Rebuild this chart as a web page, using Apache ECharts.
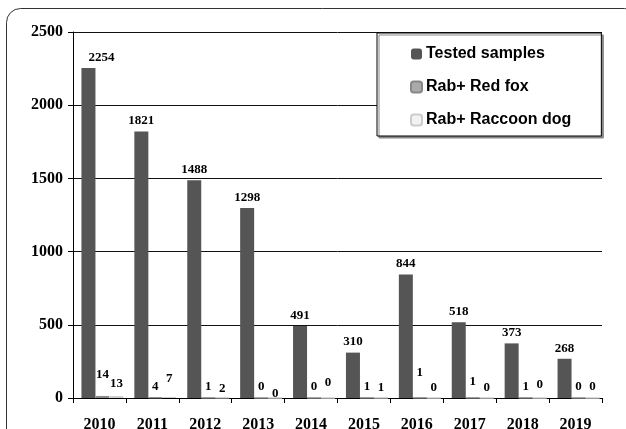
<!DOCTYPE html>
<html>
<head>
<meta charset="utf-8">
<script src="https://cdn.jsdelivr.net/npm/echarts@6/dist/echarts.min.js"></script>
<style>
html,body{margin:0;padding:0;background:#fff;}
#chart{width:626px;height:429px;}
</style>
</head>
<body>
<div id="chart"></div>
<script>
// ---- data ----
const years = ['2010','2011','2012','2013','2014','2015','2016','2017','2018','2019'];
const testedSamples = [2254,1821,1488,1298,491,310,844,518,373,268];
const redFox = [14,4,1,0,0,1,1,1,1,0];
const raccoonDog = [13,7,2,0,0,1,0,0,0,0];
const yTicks = {min:0, max:2500, interval:500};

// ---- label nudges (style only, pixels) ----
const testedLabelDx = [13,0,0,0,0,0,0,0,0,0];
const foxLabelDy = [-11,0,0,0,0,0,-14,-5,0,0];
const raccoonLabelDy = [-2,-8,2,7,-4,1,1,1,-2,0];

const chart = echarts.init(document.getElementById('chart'), null, {renderer:'canvas'});
const serif = "'Liberation Serif', 'Times New Roman', serif";
const sans = "'Liberation Sans', Arial, sans-serif";
const labelCfg = {show:true, position:'top', distance:4, fontFamily:serif, fontWeight:'bold', fontSize:13, color:'#000'};

const withOffset = (arr, dx, dy) => arr.map((v, i) => ({
  value: v,
  label: {offset: [dx ? dx[i] : 0, dy ? dy[i] : 0]}
}));

chart.setOption({
  animation:false,
  backgroundColor:'#fff',
  graphic:[{
    type:'rect', z:-10, silent:true,
    shape:{x:6.5, y:8.5, width:632, height:450, r:14},
    style:{fill:'none', stroke:'#333', lineWidth:1}
  }],
  grid:{left:73, right:24, top:32, bottom:31, containLabel:false, outerBoundsMode:'none'},
  legend:{
    orient:'vertical', left:377, top:33,
    padding:[13,30,8,33],
    itemWidth:11, itemHeight:11, itemGap:17,
    backgroundColor:'#fff', borderColor:'#000', borderWidth:1,
    shadowColor:'#888', shadowOffsetX:2, shadowOffsetY:2, shadowBlur:0,
    textStyle:{fontFamily:sans, fontWeight:'bold', fontSize:16, color:'#000', padding:[0,0,0,-1]},
    data:['Tested samples','Rab+ Red fox','Rab+ Raccoon dog']
  },
  xAxis:{
    type:'category', data:years, boundaryGap:true,
    axisLine:{lineStyle:{color:'#000', width:1}},
    axisTick:{show:true, interval:0, length:5, inside:false, lineStyle:{color:'#000'}},
    axisLabel:{interval:0, margin:19, fontFamily:serif, fontWeight:'bold', fontSize:16, color:'#000'},
    splitLine:{show:false}
  },
  yAxis:{
    type:'value', min:yTicks.min, max:yTicks.max, interval:yTicks.interval,
    axisLine:{show:true, lineStyle:{color:'#000', width:1}},
    axisTick:{show:true, length:5, lineStyle:{color:'#000'}},
    axisLabel:{margin:10, fontFamily:serif, fontWeight:'bold', fontSize:16, color:'#000',
      formatter: v => String(v)},
    splitLine:{show:true, lineStyle:{color:'#111', width:1}}
  },
  series:[
    {name:'spacer', type:'bar', data:[], barWidth:6, barGap:'0%', silent:true},
    {name:'Tested samples', type:'bar', data:withOffset(testedSamples, testedLabelDx, null), barWidth:14, barGap:'0%',
     itemStyle:{color:'#555555'}, label:labelCfg},
    {name:'Rab+ Red fox', type:'bar', data:withOffset(redFox, null, foxLabelDy), barWidth:14, barGap:'0%',
     itemStyle:{color:'#aaaaaa', borderColor:'#888888', borderWidth:1}, label:labelCfg},
    {name:'Rab+ Raccoon dog', type:'bar', data:withOffset(raccoonDog, null, raccoonLabelDy), barWidth:14, barGap:'0%',
     itemStyle:{color:'#f2f2f2', borderColor:'#cccccc', borderWidth:1}, label:labelCfg}
  ]
});
</script>
</body>
</html>
